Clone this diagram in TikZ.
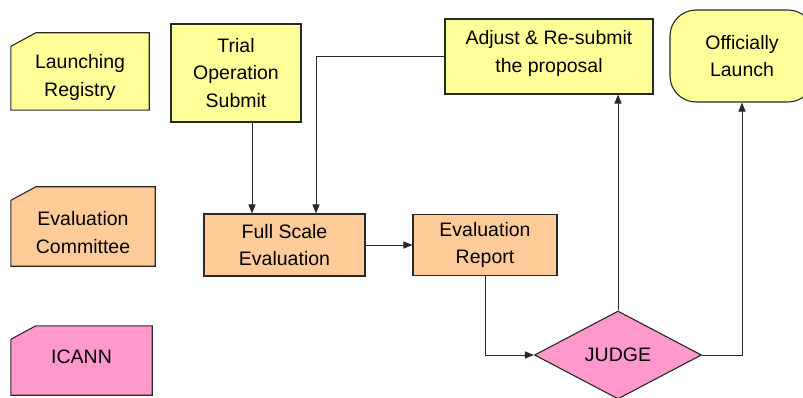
\documentclass[tikz,border=0pt]{standalone}
\usepackage{fontspec}
\setmainfont{Liberation Sans}
\usetikzlibrary{positioning, arrows.meta, shapes.geometric}
\definecolor{regcolor}{RGB}{255,255,153}
\definecolor{evalcolor}{RGB}{255,204,153}
\definecolor{icanncolor}{RGB}{255,153,204}
\definecolor{edgecolor}{RGB}{40,40,40}
\newcommand{\flowfont}{\fontsize{19.5}{27.7}\selectfont}
% caja de carril con la esquina cortada
\newcommand{\lanecut}[2]{\filldraw[draw=edgecolor, fill=#2, line width=1.1pt]
  (#1.south west) -- (#1.south east) -- (#1.north east) -- ([xshift=25pt]#1.north west)
  -- ([xshift=1pt, yshift=-13pt]#1.north west) -- ([yshift=-14pt]#1.north west) -- cycle;}

\tikzset{
  lanebox/.style={rectangle, inner sep=0pt},
  flowtext/.style={inner sep=0pt, align=center, font=\flowfont},
  stepbox/.style={rectangle, draw=edgecolor, line width=1.1pt, inner sep=0pt,
    align=center, font=\flowfont},
  judgebox/.style={diamond, draw=edgecolor, fill=icanncolor, line width=1.1pt,
    inner sep=0pt, font=\flowfont},
  flow/.style={draw=edgecolor, line width=1pt, -{Triangle[length=9pt, width=7pt]}}
}

\begin{document}
\begin{tikzpicture}[x=1pt, y=-1pt]
            \useasboundingbox (0,0) rectangle (803,398);
            \clip (0,0) rectangle (803,398);

            % Carriles
            \node[lanebox, minimum width=138pt, minimum height=77pt] (lreg) at (80,71.5) {};
            \lanecut{lreg}{regcolor}
            \node[flowtext] at ([yshift=-6pt]lreg) {Launching\\Registry};

            \node[lanebox, minimum width=144pt, minimum height=79pt] (ecom) at (83,226.5) {};
            \lanecut{ecom}{evalcolor}
            \node[flowtext] at ([yshift=-6pt]ecom) {Evaluation\\Committee};

            \node[lanebox, minimum width=141pt, minimum height=69pt] (icann) at (81.5,360.5) {};
            \lanecut{icann}{icanncolor}
            \node[flowtext] at ([yshift=4pt]icann) {ICANN};

            % Pasos
            \node[stepbox, fill=regcolor, minimum width=130pt, minimum height=98pt] (trial) at (236,73) {Trial\\Operation\\Submit};
            \node[stepbox, fill=evalcolor, minimum width=161pt, minimum height=62pt] (fse) at (284.5,245) {Full Scale\\Evaluation};
            \node[stepbox, fill=evalcolor, minimum width=144pt, minimum height=61pt] (erep) at (485,245) {Evaluation\\Report};
            \node[stepbox, fill=regcolor, minimum width=208pt, minimum height=75pt] (adj) at (549,56.5) {};
            \node[flowtext] at ([yshift=3pt]adj) {Adjust \& Re-submit\\the proposal};
            \node[stepbox, fill=regcolor, rounded corners=26pt, minimum width=144pt, minimum height=92pt] (launch) at (742,56) {Officially\\Launch};

            % Decision
            \node[judgebox, minimum width=167pt, minimum height=88pt] (judge) at (618,355) {JUDGE};

            % Flechas
            \draw[flow] ([xshift=16pt]trial.south) -- ([xshift=16pt]trial.south |- fse.north);
            \draw[flow] (adj.west) -| ([xshift=31.5pt]fse.north);
            \draw[flow] (fse.east) -- (erep.west);
            \draw[flow] (erep.south) |- (judge.west);
            \draw[flow] (judge.north) -- (judge.north |- adj.south);
            \draw[flow] (judge.east) -| (launch.south);
        \end{tikzpicture}
\end{document}
